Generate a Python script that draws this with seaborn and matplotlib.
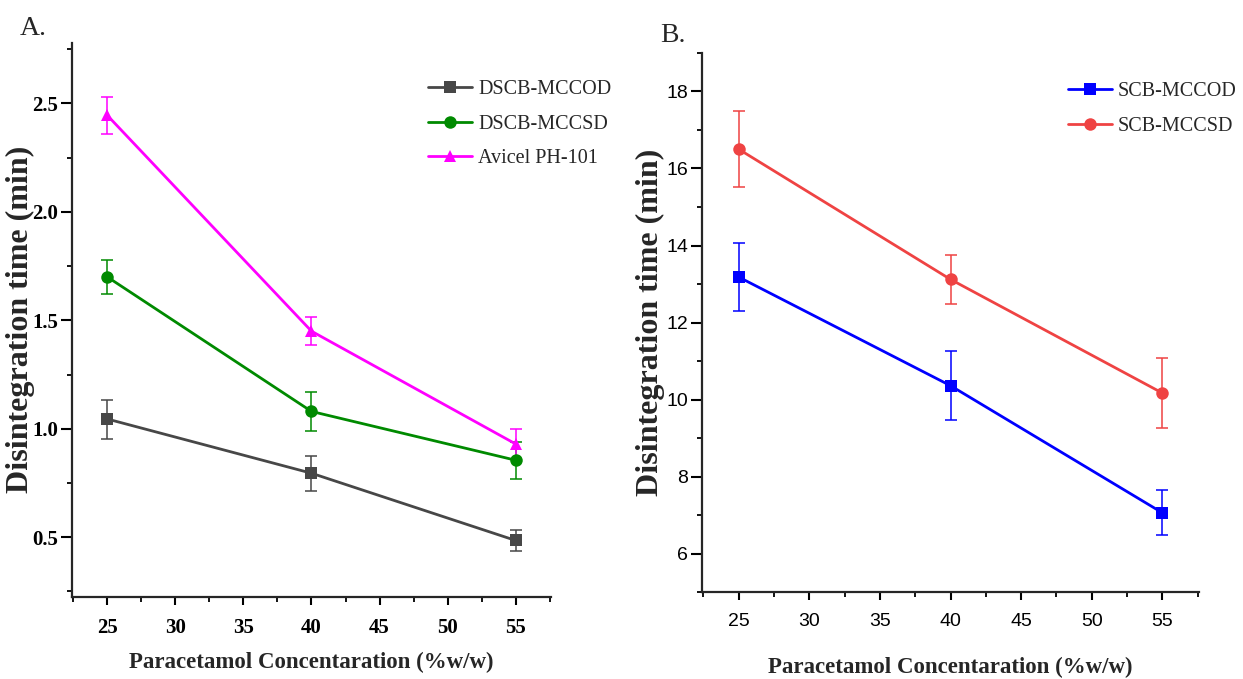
import numpy as np
import pandas as pd
import matplotlib
matplotlib.use("Agg")
import matplotlib.pyplot as plt
import seaborn as sns
from matplotlib import font_manager
from matplotlib.ticker import MultipleLocator, FormatStrFormatter

# ---------------- data ----------------
conc = [25, 40, 55]

a_series = ["DSCB-MCCOD", "DSCB-MCCSD", "Avicel PH-101"]
a_mccod = [1.045, 0.795, 0.485]
a_mccod_err = [0.09, 0.08, 0.05]
a_mccsd = [1.70, 1.08, 0.855]
a_mccsd_err = [0.08, 0.09, 0.085]
a_avicel = [2.445, 1.45, 0.93]
a_avicel_err = [0.085, 0.065, 0.07]

b_series = ["SCB-MCCOD", "SCB-MCCSD"]
b_mccod = [13.18, 10.36, 7.06]
b_mccod_err = [0.88, 0.89, 0.59]
b_mccsd = [16.50, 13.12, 10.17]
b_mccsd_err = [0.99, 0.64, 0.92]

a_colors = ["#474747", "#008a00", "#ff00ff"]
b_colors = ["#0000ff", "#ef4343"]

xlabel = "Paracetamol Concentaration (%w/w)"
ylabel = "Disintegration time (min)"

# ---------------- style ----------------
sns.set_style("ticks")
names = {f.name for f in font_manager.fontManager.ttflist}
serif = "Liberation Serif" if "Liberation Serif" in names else "DejaVu Serif"
sans_tick = "Liberation Sans Narrow" if "Liberation Sans Narrow" in names else "Liberation Sans"
plt.rcParams["font.family"] = [serif, "DejaVu Sans"]
plt.rcParams["axes.linewidth"] = 1.6

fig = plt.figure(figsize=(12.43, 6.79), dpi=100)
axA = fig.add_axes([0.0579, 0.121, 0.3854, 0.816])
axB = fig.add_axes([0.5648, 0.128, 0.3998, 0.794])


def build(series, vals):
    rows = []
    for name, v in zip(series, vals):
        for x, y in zip(conc, v):
            rows.append({"conc": x, "time": y, "series": name})
    return pd.DataFrame(rows)


def draw(ax, series, vals, errs, colors, markers):
    df = build(series, vals)
    sns.lineplot(data=df, x="conc", y="time", hue="series", style="series",
                 hue_order=series, style_order=series,
                 palette=colors, markers=markers, dashes=False,
                 linewidth=2, markersize=9, markeredgewidth=0, ax=ax,
                 zorder=3)
    for v, e, c in zip(vals, errs, colors):
        ax.errorbar(conc, v, yerr=e, fmt="none", ecolor=c, elinewidth=1.1,
                    capsize=4, capthick=1.1, zorder=2)
    sns.despine(ax=ax)
    ax.set_xlim(22.4, 57.6)
    ax.xaxis.set_major_locator(MultipleLocator(5))
    ax.xaxis.set_minor_locator(MultipleLocator(2.5))
    ax.tick_params(which="major", direction="out", length=6, width=1.5,
                   colors="black")
    ax.tick_params(which="minor", direction="out", length=3.5, width=1.3,
                   colors="black")
    ax.tick_params(axis="x", which="major", pad=9)
    ax.tick_params(axis="y", which="major", length=8, pad=2)
    ax.set_xlabel(xlabel, fontsize=16.5, fontweight="bold", family=serif,
                  va="center")
    ax.set_ylabel(ylabel, fontsize=23, fontweight="bold", family=serif)


draw(axA, a_series, [a_mccod, a_mccsd, a_avicel],
     [a_mccod_err, a_mccsd_err, a_avicel_err], a_colors, ["s", "o", "^"])
axA.set_ylim(0.225, 2.78)
axA.yaxis.set_major_locator(MultipleLocator(0.5))
axA.yaxis.set_minor_locator(MultipleLocator(0.25))
axA.yaxis.set_major_formatter(FormatStrFormatter("%.1f"))
for lab in axA.get_xticklabels() + axA.get_yticklabels():
    lab.set_fontfamily(serif)
    lab.set_fontweight("bold")
    lab.set_fontsize(15)
axA.yaxis.set_label_coords(-0.078, 0.5)
axA.xaxis.set_label_coords(0.5, -0.119)

draw(axB, b_series, [b_mccod, b_mccsd], [b_mccod_err, b_mccsd_err],
     b_colors, ["s", "o"])
axB.set_ylim(5, 19)
axB.yaxis.set_major_locator(MultipleLocator(2))
axB.yaxis.set_minor_locator(MultipleLocator(1))
for lab in axB.get_xticklabels() + axB.get_yticklabels():
    lab.set_fontfamily(sans_tick)
    lab.set_fontsize(14)
axB.yaxis.set_label_coords(-0.075, 0.5)
axB.xaxis.set_label_coords(0.5, -0.139)

# legends
for ax, x0, y0 in [(axA, 0.344, 0.882), (axB, 0.859, 0.879)]:
    h, l = ax.get_legend_handles_labels()
    ax.legend(h, l, loc="upper left", bbox_to_anchor=(x0, y0),
              bbox_transform=fig.transFigure, frameon=False, borderpad=0,
              borderaxespad=0, handlelength=2.2, handletextpad=0.3,
              labelspacing=0.77, prop={"family": serif, "size": 14.5})

fig.text(0.016, 0.94, "A.", fontsize=20, family=serif, va="bottom")
fig.text(0.531, 0.93, "B.", fontsize=20, family=serif, va="bottom")

fig.savefig("out.png", dpi=100)
